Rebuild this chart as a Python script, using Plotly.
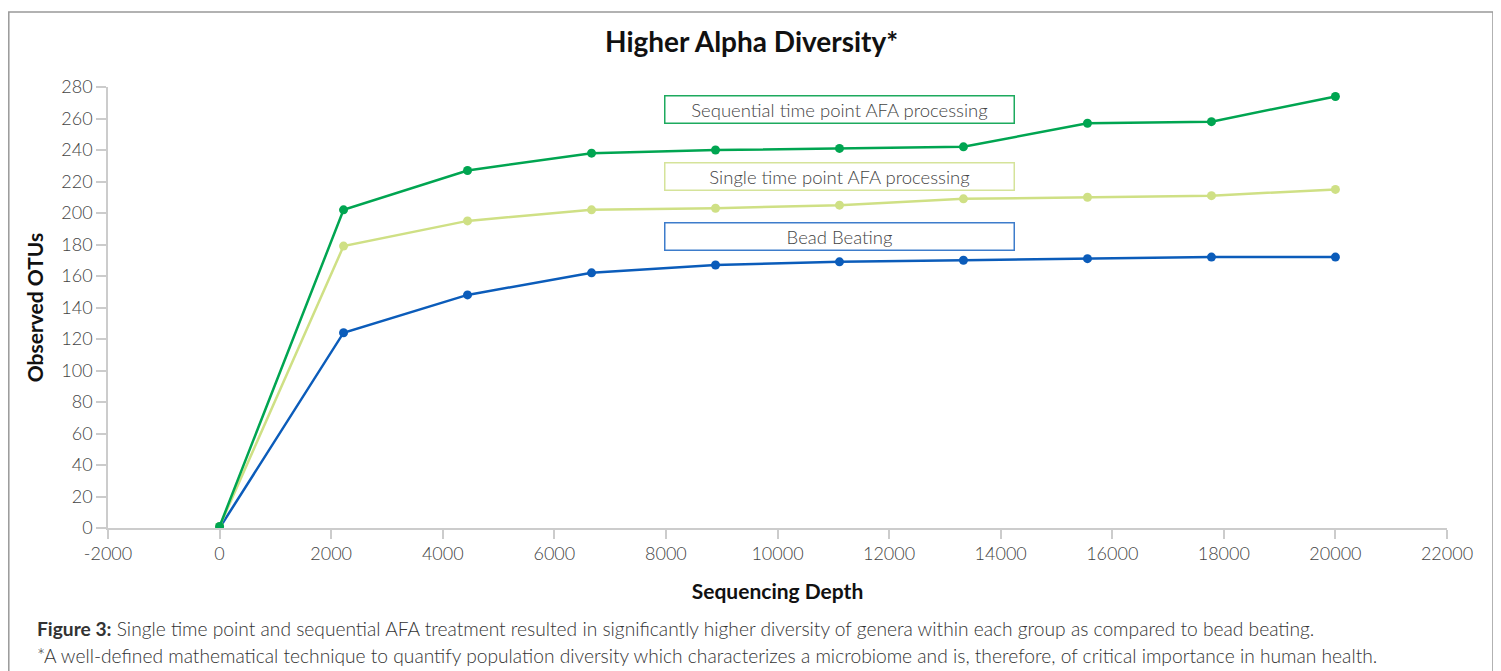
import plotly.graph_objects as go

depth = [0, 2222, 4444, 6667, 8889, 11111, 13333, 15556, 17778, 20000]
sequential = [1, 202, 227, 238, 240, 241, 242, 257, 258, 274]
single = [1, 179, 195, 202, 203, 205, 209, 210, 211, 215]
bead = [0, 124, 148, 162, 167, 169, 170, 171, 172, 172]

series_names = ["Sequential time point AFA processing", "Single time point AFA processing", "Bead Beating"]
series_values = [sequential, single, bead]
line_colors = ["#00A551", "#CFE085", "#0B5CBA"]
box_colors = ["#1DAA5E", "#D5E39A", "#3D7CCB"]
label_y = [265.6, 223.2, 185.2]

x_ticks = list(range(-2000, 22001, 2000))
y_ticks = list(range(0, 281, 20))

OFF = 8  # page body margin
W, H = 1501 - OFF, 671 - OFF
L, T = 108 - OFF, 87 - OFF
R = W - (1447 - OFF)
B = H - (528 - OFF)
pw, ph = W - L - R, H - T - B

def px(xp):
    return (xp - OFF - L) / pw

def py(yp):
    return (H - B - (yp - OFF)) / ph

fig = go.Figure()
for name, vals, col in reversed(list(zip(series_names, series_values, line_colors))):
    fig.add_trace(go.Scatter(x=depth, y=vals, mode="lines+markers", name=name,
                             line=dict(color=col, width=2.5),
                             marker=dict(color=col, size=9),
                             showlegend=False))

FONT = "Lato"
for name, col, yv in zip(series_names, box_colors, label_y):
    fig.add_annotation(x=11120, y=yv, xref="x", yref="y", text=name, showarrow=False,
                       xanchor="center", yanchor="middle", width=348, height=26,
                       bordercolor=col, borderwidth=1.5, borderpad=0, bgcolor="white",
                       font=dict(family=FONT, size=18.5, color="#444444", weight=300))

fig.add_annotation(x=px(751), y=py(41), xref="paper", yref="paper", showarrow=False,
                   text="<b>Higher Alpha Diversity*</b>", xanchor="center", yanchor="middle",
                   font=dict(family=FONT, size=28, color="#111111"))

fig.add_annotation(x=px(35), y=py(628), xref="paper", yref="paper", showarrow=False,
                   xanchor="left", yanchor="middle",
                   text="<b>Figure 3:</b> Single time point and sequential AFA treatment resulted in significantly higher diversity of genera within each group as compared to bead beating.",
                   font=dict(family=FONT, size=19.2, color="#333333", weight=300))
fig.add_annotation(x=px(35), y=py(655), xref="paper", yref="paper", showarrow=False,
                   xanchor="left", yanchor="middle",
                   text="*A well-defined mathematical technique to quantify population diversity which characterizes a microbiome and is, therefore, of critical importance in human health.",
                   font=dict(family=FONT, size=19.2, color="#333333", weight=300))

fig.add_shape(type="rect", xref="paper", yref="paper",
              x0=px(8.8), x1=px(1493), y0=py(12), y1=py(720),
              line=dict(color="#999999", width=1.5), fillcolor="rgba(0,0,0,0)", layer="below")

fig.update_layout(
    width=W, height=H,
    margin=dict(l=L, r=R, t=T, b=B),
    paper_bgcolor="white", plot_bgcolor="white",
    font=dict(family=FONT),
    xaxis=dict(range=[-2000, 22000], tickvals=x_ticks, ticktext=[str(v) for v in x_ticks],
               showgrid=False, zeroline=False, showline=True, linecolor="#CCCCCC", linewidth=1.5,
               ticks="outside", ticklen=9, tickcolor="#CCCCCC", tickwidth=1.5,
               tickfont=dict(family=FONT, size=18, color="#444444", weight=300),
               title=dict(text="<b>Sequencing Depth</b>", font=dict(family=FONT, size=21, color="#111111"),
                          standoff=21)),
    yaxis=dict(range=[0, 280], tickvals=y_ticks, showgrid=False, zeroline=False,
               showline=True, linecolor="#CCCCCC", linewidth=1.5,
               ticks="outside", ticklen=10, tickcolor="#CCCCCC", tickwidth=1.5,
               tickfont=dict(family=FONT, size=18, color="#444444", weight=300),
               title=dict(text="<b>Observed OTUs</b>", font=dict(family=FONT, size=21, color="#111111"),
                          standoff=12)),
)

fig.write_html("out.html")
